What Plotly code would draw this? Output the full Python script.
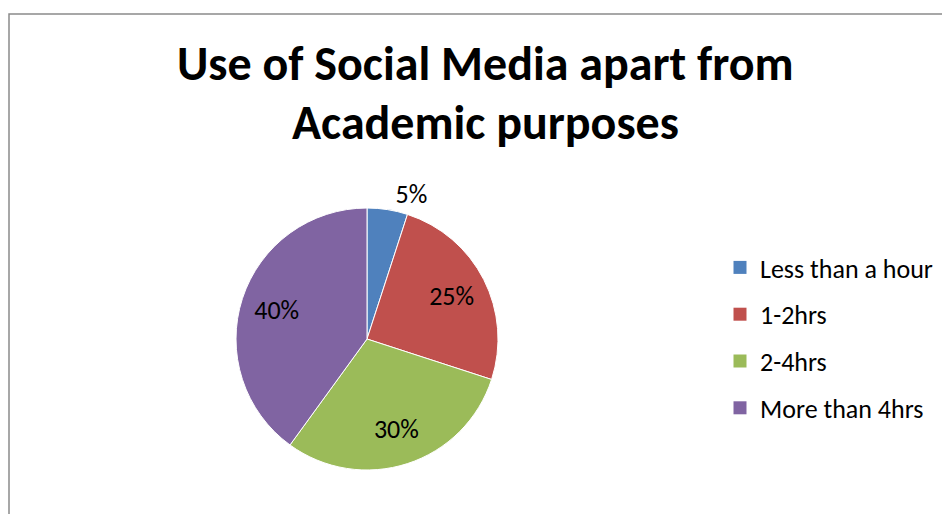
import plotly.graph_objects as go

categories = ["Less than a hour", "1-2hrs", "2-4hrs", "More than 4hrs"]
values = [5, 25, 30, 40]
colors = ["#4F81BD", "#C0504D", "#9BBB59", "#8064A2"]
label_positions = ["outside", "inside", "inside", "inside"]
title_lines = ["Use of Social Media apart from", "Academic purposes"]

# page body has an 8px margin; figure fills the rest of the window
W, H = 942, 506
cx, cy, r = 359, 331, 131
FONT = "Carlito, Calibri, Lato, sans-serif"

dom = dict(x=[(cx - r) / W, (cx + r) / W], y=[1 - (cy + r) / H, 1 - (cy - r) / H])

fig = go.Figure()
# coloured pie
fig.add_trace(go.Pie(
    labels=categories, values=values, sort=False,
    direction="clockwise", rotation=0,
    marker=dict(colors=colors, line=dict(color="white", width=1)),
    textinfo="none", domain=dom, showlegend=False,
    hoverinfo="label+percent",
))
# transparent ring carrying the percentage labels (places them toward the rim)
fig.add_trace(go.Pie(
    labels=categories, values=values, sort=False,
    direction="clockwise", rotation=0, hole=0.45,
    marker=dict(colors=["rgba(0,0,0,0)"] * len(values), line=dict(width=0)),
    texttemplate="%{percent:.0%}",
    textposition=label_positions,
    insidetextorientation="horizontal",
    textfont=dict(size=26, color="black", family=FONT),
    insidetextfont=dict(size=26, color="black", family=FONT),
    outsidetextfont=dict(size=26, color="black", family=FONT),
    domain=dom, showlegend=False, hoverinfo="skip",
))
# legend entries
for name, col in zip(categories, colors):
    fig.add_trace(go.Scatter(
        x=[None], y=[None], mode="markers", name=name, legendgroup=name,
        marker=dict(symbol="square", size=13, color=col, line=dict(width=0)),
        hoverinfo="skip",
    ))

annotations = []
for i, line in enumerate(title_lines):
    annotations.append(dict(
        text="<b>" + line + "</b>", showarrow=False,
        xref="paper", yref="paper", x=477 / W, xanchor="center",
        y=1 - (55 + 59 * i) / H, yanchor="middle",
        font=dict(size=48, color="black", family=FONT),
    ))

fig.update_layout(
    width=W, height=H,
    margin=dict(l=0, r=0, t=0, b=0),
    paper_bgcolor="white", plot_bgcolor="white",
    font=dict(family=FONT, color="black"),
    xaxis=dict(visible=False), yaxis=dict(visible=False),
    annotations=annotations,
    legend=dict(
        x=712 / W, xanchor="left",
        y=1 - 236 / H, yanchor="top",
        font=dict(size=26, color="black", family=FONT),
        bgcolor="rgba(0,0,0,0)",
        traceorder="grouped", tracegroupgap=10,
    ),
    shapes=[dict(
        type="rect", xref="paper", yref="paper",
        x0=1 / W, x1=1.05, y0=-0.05, y1=1 - 6 / H,
        line=dict(color="#8a8a8a", width=1.5),
        fillcolor="rgba(0,0,0,0)", layer="below",
    )],
)

fig.write_html("out.html")
